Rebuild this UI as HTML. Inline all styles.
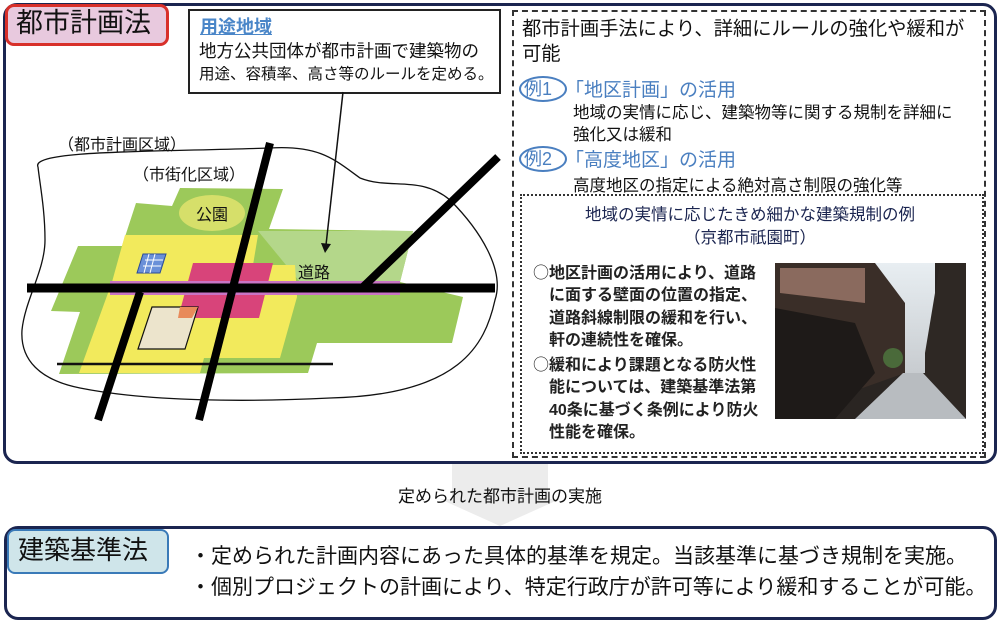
<!DOCTYPE html>
<html><head><meta charset="utf-8"><style>
body{margin:0;width:1000px;height:622px;background:#fff;position:relative;overflow:hidden;font-family:"Liberation Sans","Noto Sans CJK JP",sans-serif;color:#111}
.a{position:absolute;white-space:nowrap}
.j{font-family:"Noto Sans CJK JP",sans-serif}
</style></head><body>
<div class="a" style="left:3px;top:3px;width:988px;height:455px;border:3px solid #1b2550;border-radius:14px"></div>
<div class="a" style="left:5px;top:4px;width:158px;height:36px;background:#e8c9de;border:3px solid #d8302a;border-radius:9px"></div>
<div class="a" style="left:16px;top:6px;font-size:27px;line-height:34px">都市計画法</div>

<div class="a" style="left:188px;top:9px;width:309px;height:81px;border:2px solid #222;background:#fff"></div>
<div class="a" style="left:200px;top:13px;font-size:18px;font-weight:bold;color:#4a86c8;text-decoration:underline">用途地域</div>
<div class="a" style="left:199px;top:39px;font-size:17.5px;line-height:24px">地方公共団体が都市計画で建築物の</div>
<div class="a" style="left:199px;top:63px;font-size:15.5px;line-height:24px">用途、容積率、高さ等のルールを定める。</div>

<div class="a" style="left:512px;top:10px;width:470px;height:444px;border:2px dashed #333"></div>
<div class="a" style="left:522px;top:17px;font-size:19.3px;line-height:25px">都市計画手法により、詳細にルールの強化や緩和が<br>可能</div>
<div class="a" style="left:519px;top:76px;width:44px;height:22px;border:2.5px solid #4a7fc0;border-radius:50%"></div>
<div class="a" style="left:524px;top:75px;font-size:18px;color:#4a7fc0">例1</div>
<div class="a" style="left:565px;top:75px;font-size:19px;color:#4a7fc0">「地区計画」の活用</div>
<div class="a" style="left:573px;top:102px;font-size:16.5px;line-height:22px">地域の実情に応じ、建築物等に関する規制を詳細に<br>強化又は緩和</div>
<div class="a" style="left:519px;top:146px;width:44px;height:22px;border:2.5px solid #4a7fc0;border-radius:50%"></div>
<div class="a" style="left:524px;top:145px;font-size:18px;color:#4a7fc0">例2</div>
<div class="a" style="left:565px;top:145px;font-size:19px;color:#4a7fc0">「高度地区」の活用</div>
<div class="a" style="left:573px;top:172px;font-size:16.5px">高度地区の指定による絶対高さ制限の強化等</div>

<div class="a" style="left:520px;top:194px;width:460px;height:256px;border:2px dotted #333"></div>
<div class="a" style="left:520px;top:204px;width:460px;text-align:center;font-size:16.5px;line-height:23px;color:#1b2550">地域の実情に応じたきめ細かな建築規制の例<br>（京都市祇園町）</div>
<div class="a" style="left:533px;top:260px;font-size:16px;line-height:22.3px;font-weight:bold;color:#222"><span class="j" style="font-weight:normal">○</span>地区計画の活用により、道路<br><span style="padding-left:16px"></span>に面する壁面の位置の指定、<br><span style="padding-left:16px"></span>道路斜線制限の緩和を行い、<br><span style="padding-left:16px"></span>軒の連続性を確保。<br><span class="j" style="font-weight:normal">○</span>緩和により課題となる防火性<br><span style="padding-left:16px"></span>能については、建築基準法第<br><span style="padding-left:16px"></span>40条に基づく条例により防火<br><span style="padding-left:16px"></span>性能を確保。</div>

<svg class="a" style="left:775px;top:263px" width="191" height="156">
<defs><linearGradient id="sky" x1="0" y1="0" x2="0" y2="1"><stop offset="0" stop-color="#e8eef2"/><stop offset="1" stop-color="#c8ccd0"/></linearGradient></defs>
<rect width="191" height="156" fill="#2a2522"/>
<rect x="100" y="0" width="60" height="110" fill="url(#sky)"/>
<polygon points="0,0 100,0 130,40 130,110 0,156" fill="#3a2e28"/>
<polygon points="5,5 90,5 90,40 5,30" fill="#8a6a5e"/>
<polygon points="0,45 80,60 100,110 60,156 0,156" fill="#1e1a18"/>
<polygon points="165,0 191,0 191,156 150,156 150,90" fill="#2e2824"/>
<polygon points="128,110 148,110 191,156 80,156" fill="#b8bcc0"/>
<circle cx="118" cy="95" r="10" fill="#4a6a3a"/>
</svg>

<svg class="a" style="left:0;top:0" width="512" height="460">
<path d="M38,167 C30,150 150,152 270,148 C320,145 335,160 360,178 C390,190 420,175 450,200 C480,230 505,270 495,300 C485,345 460,395 330,398 C250,402 150,402 80,388 C40,380 20,360 22,330 C25,300 45,270 45,240 C45,210 40,185 38,167 Z" fill="#fff" stroke="#111" stroke-width="1.3"/>
<polygon points="180,188 283,189 269,229 413,231 400,282 463,297 452,343 317,343 308,373 59,374 80,312 51,311 78,246 122,246 136,203 172,206" fill="#9cc95a"/>
<polygon points="258,231 413,231 400,282 300,282" fill="#b4d78a"/>
<ellipse cx="212" cy="213" rx="33" ry="18" fill="#d6df6a"/>
<polygon points="125,235 258,235 253,265 295,265 297,297 280,358 204,358 200,373 79,373 112,282" fill="#f2ea5c"/>
<polygon points="193,263 273,263 259,318 178,318" fill="#d8447a"/>
<polygon points="152,307 198,307 185,349 138,349" fill="#ece4cc" stroke="#111" stroke-width="1.2"/>
<polygon points="180,307 198,307 192,318 178,318" fill="#e88a5a"/>
<polygon points="143,254 166,254 160,273 137,273" fill="#6a90d8" stroke="#2a4a9a"/>
<path d="M145,260h18M143,266h18M149,254l-5,19M155,254l-5,19" stroke="#fff" stroke-width="1"/>
<rect x="110" y="281" width="290" height="14" fill="#c874c4"/>
<line x1="57" y1="364" x2="333" y2="364" stroke="#111" stroke-width="2.5"/>
<line x1="27" y1="288" x2="495" y2="288" stroke="#000" stroke-width="9"/>
<line x1="270" y1="143" x2="199" y2="420" stroke="#000" stroke-width="8"/>
<line x1="140" y1="292" x2="98" y2="420" stroke="#000" stroke-width="8"/>
<line x1="498" y1="157" x2="363" y2="287" stroke="#000" stroke-width="8"/>
<line x1="343" y1="92" x2="326" y2="245" stroke="#111" stroke-width="1.5"/>
<polygon points="321,243 331,244 325,253" fill="#111"/>
<text x="196" y="220" font-size="16" fill="#111">公園</text>
<text x="298" y="278" font-size="16" fill="#111">道路</text>
<text x="58" y="150" font-size="16" fill="#111">（都市計画区域）</text>
<text x="133" y="180" font-size="16" fill="#111">（市街化区域）</text>
</svg>

<svg class="a" style="left:440px;top:464px" width="120" height="64"><polygon points="12,0 108,0 108,35 120,35 60,62 0,35 12,35" fill="#ececec"/></svg>
<div class="a" style="left:0;top:482px;width:1000px;text-align:center;font-size:17px">定められた都市計画の実施</div>

<div class="a" style="left:4px;top:526px;width:987px;height:88px;border:3px solid #1b2550;border-radius:14px"></div>
<div class="a" style="left:7px;top:529px;width:158px;height:41px;background:#cfe5ea;border:2.5px solid #3a7ab8;border-radius:8px"></div>
<div class="a" style="left:18px;top:533px;font-size:26px;line-height:34px">建築基準法</div>
<div class="a" style="left:190px;top:541px;font-size:21px;line-height:31px">・定められた計画内容にあった具体的基準を規定。当該基準に基づき規制を実施。<br>・個別プロジェクトの計画により、特定行政庁が許可等により緩和することが可能。</div>
</body></html>
